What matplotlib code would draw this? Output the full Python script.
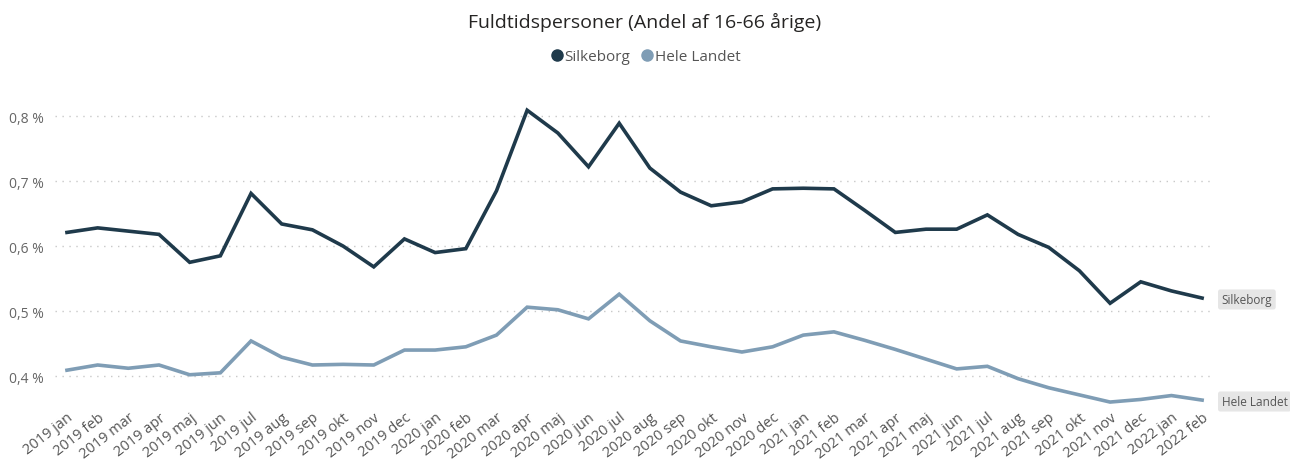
import matplotlib
matplotlib.use("Agg")
import matplotlib.pyplot as plt
from matplotlib.lines import Line2D

# data (percent)
months = ["2019 jan", "2019 feb", "2019 mar", "2019 apr", "2019 maj", "2019 jun",
          "2019 jul", "2019 aug", "2019 sep", "2019 okt", "2019 nov", "2019 dec",
          "2020 jan", "2020 feb", "2020 mar", "2020 apr", "2020 maj", "2020 jun",
          "2020 jul", "2020 aug", "2020 sep", "2020 okt", "2020 nov", "2020 dec",
          "2021 jan", "2021 feb", "2021 mar", "2021 apr", "2021 maj", "2021 jun",
          "2021 jul", "2021 aug", "2021 sep", "2021 okt", "2021 nov", "2021 dec",
          "2022 jan", "2022 feb"]
silkeborg = [0.621, 0.628, 0.623, 0.618, 0.575, 0.585, 0.681, 0.634, 0.625, 0.600,
             0.568, 0.611, 0.590, 0.596, 0.685, 0.809, 0.774, 0.722, 0.789, 0.720,
             0.683, 0.662, 0.668, 0.688, 0.689, 0.688, 0.655, 0.621, 0.626, 0.626,
             0.648, 0.618, 0.598, 0.562, 0.512, 0.545, 0.531, 0.520]
hele_landet = [0.409, 0.417, 0.412, 0.417, 0.402, 0.405, 0.454, 0.429, 0.417, 0.418,
               0.417, 0.440, 0.440, 0.445, 0.463, 0.506, 0.502, 0.488, 0.526, 0.485,
               0.454, 0.445, 0.437, 0.445, 0.463, 0.468, 0.455, 0.441, 0.426, 0.411,
               0.415, 0.396, 0.382, 0.371, 0.360, 0.364, 0.370, 0.363]
yticks = [0.4, 0.5, 0.6, 0.7, 0.8]

dark = "#1f3a4b"
light = "#7f9db5"
plt.rcParams["font.family"] = ["Open Sans", "DejaVu Sans"]

fig = plt.figure(figsize=(12.9, 4.6), dpi=100)
ax = fig.add_axes([55 / 1290, 1 - 405 / 460, 1160 / 1290, 310 / 460])

x = list(range(len(months)))
ax.plot(x, silkeborg, color=dark, lw=2.6, solid_joinstyle="miter")
ax.plot(x, hele_landet, color=light, lw=2.6, solid_joinstyle="miter")

ax.set_xlim(-0.39, 37.42)
ax.set_ylim(0.357, 0.834)
ax.set_yticks(yticks)
ax.set_yticklabels([f"{v:.1f} %".replace(".", ",") for v in yticks], color="#666666", fontsize=10)
ax.set_xticks(x)
ax.set_xticklabels(months, rotation=38, ha="right", rotation_mode="anchor",
                   color="#555555", fontsize=10.5)
ax.tick_params(length=0, pad=8)
ax.tick_params(axis="x", pad=4)
ax.yaxis.grid(True, color="#c8c8c8", linestyle=(0, (1, 4)), lw=1)
for s in ax.spines.values():
    s.set_visible(False)

# end labels
box = dict(boxstyle="round,pad=0.3,rounding_size=0.2", fc="#e6e6e6", ec="none")
ax.annotate("Silkeborg", xy=(x[-1], silkeborg[-1]), xytext=(14, -1), textcoords="offset points",
            va="center", ha="left", fontsize=8.5, color="#555555", bbox=box, annotation_clip=False)
ax.annotate("Hele Landet", xy=(x[-1], hele_landet[-1]), xytext=(14, -1), textcoords="offset points",
            va="center", ha="left", fontsize=8.5, color="#555555", bbox=box, annotation_clip=False)

fig.text(0.5, 1 - 22 / 460, "Fuldtidspersoner (Andel af 16-66 årige)", ha="center", va="center",
         fontsize=14, color="#252423")
handles = [Line2D([], [], marker="o", ls="none", color=dark, markersize=8),
           Line2D([], [], marker="o", ls="none", color=light, markersize=8)]
fig.legend(handles, ["Silkeborg", "Hele Landet"], loc="center", bbox_to_anchor=(0.5, 1 - 58 / 460),
           ncol=2, frameon=False, fontsize=11, handletextpad=0.0, columnspacing=0.6,
           labelcolor="#555555", handlelength=1.0)

fig.savefig("out.png", dpi=100)
